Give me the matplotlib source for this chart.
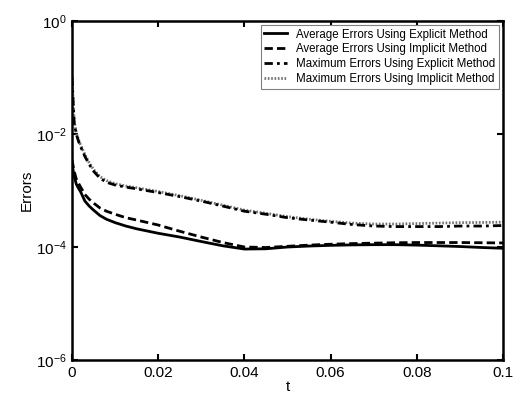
import numpy as np
import matplotlib
matplotlib.use("Agg")
from matplotlib import pyplot as plt
from matplotlib.ticker import FixedLocator, NullLocator

plt.rcParams['font.family'] = ['Liberation Sans', 'DejaVu Sans']

# time samples and error curves
t = [0.0, 0.0005, 0.001, 0.0015, 0.002, 0.003, 0.004, 0.005, 0.0065, 0.008,
     0.01, 0.0125, 0.015, 0.02, 0.025, 0.03, 0.035, 0.04, 0.045, 0.05,
     0.055, 0.06, 0.065, 0.07, 0.075, 0.08, 0.085, 0.09, 0.095, 0.1]

avg_explicit = [3.0e-3, 1.8e-3, 1.3e-3, 1.1e-3, 9.5e-4, 6.5e-4, 5.3e-4, 4.5e-4, 3.6e-4, 3.1e-4,
                2.7e-4, 2.35e-4, 2.1e-4, 1.75e-4, 1.5e-4, 1.25e-4, 1.05e-4, 9.2e-5, 9.3e-5, 1.0e-4,
                1.04e-4, 1.07e-4, 1.09e-4, 1.1e-4, 1.1e-4, 1.08e-4, 1.05e-4, 1.02e-4, 9.8e-5, 9.5e-5]

avg_implicit = [3.5e-3, 2.2e-3, 1.6e-3, 1.35e-3, 1.15e-3, 8.5e-4, 7.0e-4, 6.0e-4, 4.9e-4, 4.3e-4,
                3.8e-4, 3.3e-4, 3.0e-4, 2.45e-4, 1.9e-4, 1.5e-4, 1.2e-4, 1.0e-4, 9.8e-5, 1.03e-4,
                1.08e-4, 1.12e-4, 1.15e-4, 1.17e-4, 1.19e-4, 1.2e-4, 1.2e-4, 1.2e-4, 1.19e-4, 1.18e-4]

max_explicit = [1.0e-1, 1.6e-2, 1.0e-2, 7.5e-3, 6.0e-3, 4.0e-3, 2.9e-3, 2.2e-3, 1.65e-3, 1.4e-3,
                1.25e-3, 1.15e-3, 1.07e-3, 9.2e-4, 7.8e-4, 6.5e-4, 5.3e-4, 4.3e-4, 3.8e-4, 3.3e-4,
                3.0e-4, 2.75e-4, 2.5e-4, 2.35e-4, 2.3e-4, 2.3e-4, 2.3e-4, 2.35e-4, 2.35e-4, 2.4e-4]

max_implicit = [1.0e-1, 1.7e-2, 1.05e-2, 8.0e-3, 6.4e-3, 4.3e-3, 3.1e-3, 2.35e-3, 1.75e-3, 1.5e-3,
                1.32e-3, 1.2e-3, 1.12e-3, 9.6e-4, 8.1e-4, 6.7e-4, 5.5e-4, 4.5e-4, 3.95e-4, 3.45e-4,
                3.1e-4, 2.85e-4, 2.65e-4, 2.55e-4, 2.55e-4, 2.6e-4, 2.65e-4, 2.7e-4, 2.72e-4, 2.75e-4]

labels = ["Average Errors Using Explicit Method",
          "Average Errors Using Implicit Method",
          "Maximum Errors Using Explicit Method",
          "Maximum Errors Using Implicit Method"]

fig = plt.figure(figsize=(5.16, 3.95), dpi=100)
ax = fig.add_axes([0.1395, 0.0886, 0.8355, 0.8582])

ax.semilogy(t, avg_explicit, color='black', lw=2.0, ls='-', label=labels[0])
ax.semilogy(t, avg_implicit, color='black', lw=2.0, ls=(0, (3, 1.5)), label=labels[1])
ax.semilogy(t, max_implicit, color='0.45', lw=2.0, ls=(0, (0.6, 0.6)), label=labels[3])
ax.semilogy(t, max_explicit, color='black', lw=2.0, ls=(0, (3, 1.5, 1, 1.5)), label=labels[2])

ax.set_xlim(0, 0.1)
ax.set_ylim(1e-6, 1)
ax.set_xticks([0, 0.02, 0.04, 0.06, 0.08, 0.1])
ax.set_xticklabels(["0", "0.02", "0.04", "0.06", "0.08", "0.1"])
ax.yaxis.set_major_locator(FixedLocator([1e-6, 1e-4, 1e-2, 1e0]))
ax.yaxis.set_minor_locator(NullLocator())
ax.tick_params(direction='in', top=True, right=True, length=4, width=1.5, labelsize=11, pad=4)
for s in ax.spines.values():
    s.set_linewidth(1.8)

ax.set_xlabel("t", fontsize=11, labelpad=0)
ax.set_ylabel("Errors", fontsize=11, labelpad=1)

handles, labs = ax.get_legend_handles_labels()
order = [0, 1, 3, 2]
leg = ax.legend([handles[i] for i in order], [labs[i] for i in order],
                loc='upper right', fontsize=8.3, frameon=True, fancybox=False,
                edgecolor='0.5', framealpha=1, borderpad=0.3, labelspacing=0.25,
                handlelength=2.0, handletextpad=0.8, borderaxespad=0.35)
leg.get_frame().set_linewidth(0.8)

fig.savefig("out.png", dpi=100)
